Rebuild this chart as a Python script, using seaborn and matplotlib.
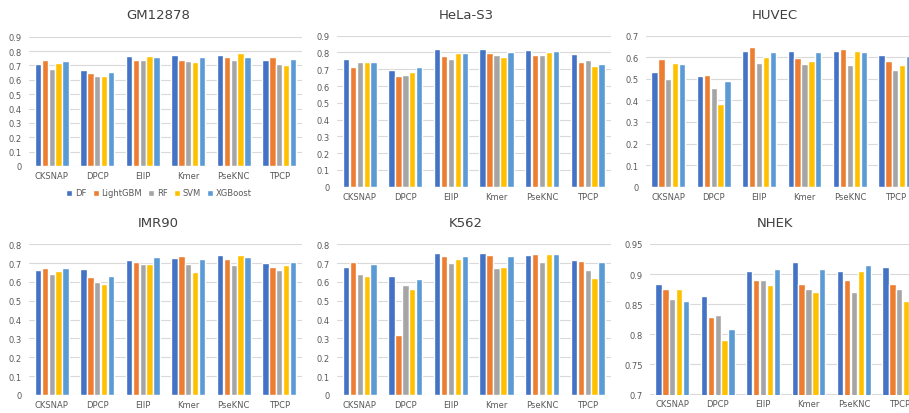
import pandas as pd
import matplotlib
matplotlib.use('Agg')
import matplotlib.pyplot as plt
import seaborn as sns
from matplotlib.ticker import FuncFormatter

features = ['CKSNAP', 'DPCP', 'EIIP', 'Kmer', 'PseKNC', 'TPCP']
models = ['DF', 'LightGBM', 'RF', 'SVM', 'XGBoost']
colors = ['#4472C4', '#ED7D31', '#A5A5A5', '#FFC000', '#5B9BD5']

# values per feature, in model order DF, LightGBM, RF, SVM, XGBoost
gm12878 = [[0.708, 0.735, 0.675, 0.716, 0.731],
           [0.668, 0.645, 0.625, 0.627, 0.652],
           [0.766, 0.740, 0.740, 0.765, 0.761],
           [0.770, 0.740, 0.732, 0.727, 0.761],
           [0.770, 0.757, 0.740, 0.787, 0.757],
           [0.740, 0.761, 0.713, 0.703, 0.743]]
hela_s3 = [[0.762, 0.711, 0.741, 0.745, 0.741],
           [0.696, 0.662, 0.664, 0.682, 0.711],
           [0.819, 0.780, 0.761, 0.799, 0.799],
           [0.819, 0.795, 0.786, 0.773, 0.801],
           [0.815, 0.784, 0.785, 0.803, 0.809],
           [0.789, 0.745, 0.757, 0.717, 0.731]]
huvec = [[0.532, 0.593, 0.498, 0.575, 0.567],
         [0.515, 0.516, 0.456, 0.383, 0.490],
         [0.628, 0.649, 0.572, 0.600, 0.626],
         [0.628, 0.596, 0.569, 0.583, 0.626],
         [0.631, 0.637, 0.566, 0.631, 0.624],
         [0.612, 0.581, 0.542, 0.566, 0.606]]
imr90 = [[0.662, 0.674, 0.644, 0.657, 0.672],
         [0.668, 0.625, 0.600, 0.591, 0.630],
         [0.719, 0.708, 0.697, 0.696, 0.735],
         [0.729, 0.736, 0.694, 0.651, 0.722],
         [0.742, 0.722, 0.688, 0.745, 0.735],
         [0.701, 0.681, 0.664, 0.690, 0.706]]
k562 = [[0.681, 0.704, 0.642, 0.634, 0.694],
        [0.634, 0.320, 0.582, 0.561, 0.614],
        [0.756, 0.736, 0.703, 0.722, 0.736],
        [0.756, 0.745, 0.674, 0.678, 0.736],
        [0.745, 0.750, 0.704, 0.747, 0.747],
        [0.717, 0.713, 0.662, 0.623, 0.708]]
nhek = [[0.884, 0.875, 0.859, 0.875, 0.856],
        [0.863, 0.829, 0.832, 0.790, 0.808],
        [0.905, 0.891, 0.891, 0.882, 0.909],
        [0.920, 0.883, 0.876, 0.871, 0.909],
        [0.905, 0.891, 0.871, 0.905, 0.915],
        [0.911, 0.884, 0.876, 0.855, 0.875]]

W, H = 909, 414
# name, values, y limits, y ticks, plot box in pixels (left, right, y of bottom, y of top), title centre
panels = [
    ('GM12878', gm12878, (0, 0.9), [i / 10 for i in range(10)], (29, 302, 167, 37.7), (158, 15.5)),
    ('HeLa-S3', hela_s3, (0, 0.9), [i / 10 for i in range(10)], (337, 610.5, 187.7, 36.7), (466, 15.5)),
    ('HUVEC', huvec, (0, 0.7), [i / 10 for i in range(8)], (645.6, 918, 187.7, 36.7), (775, 15.5)),
    ('IMR90', imr90, (0, 0.8), [i / 10 for i in range(9)], (29, 302, 396, 245.3), (158, 223.5)),
    ('K562', k562, (0, 0.8), [i / 10 for i in range(9)], (337, 610.5, 396, 245.3), (466, 223.5)),
    ('NHEK', nhek, (0.7, 0.95), [0.7, 0.75, 0.8, 0.85, 0.9, 0.95], (649.6, 922, 395.5, 245), (775, 223.5)),
]

sns.set_style('white')
plt.rcParams['font.family'] = ['DejaVu Sans']

fig = plt.figure(figsize=(W / 100, H / 100), dpi=100)
fmt = FuncFormatter(lambda v, p: '{:g}'.format(round(v, 3)))

first_ax = None
for name, vals, ylim, yticks, (l, r, b, t), (tx, ty) in panels:
    rows = []
    for f, row in zip(features, vals):
        for m, v in zip(models, row):
            rows.append({'feature': f, 'model': m, 'value': v})
    df = pd.DataFrame(rows)

    ax = fig.add_axes([l / W, 1 - b / H, (r - l) / W, (b - t) / H])
    ax.set_facecolor('none')
    sns.barplot(data=df, x='feature', y='value', hue='model', order=features,
                hue_order=models, palette=colors, width=0.76, gap=0.08,
                saturation=1, ax=ax, zorder=3)
    ax.set_ylim(*ylim)
    ax.set_yticks(yticks)
    ax.yaxis.set_major_formatter(fmt)
    ax.set_xlim(-0.5, len(features) - 0.5)
    ax.grid(axis='y', color='#D9D9D9', linewidth=0.8, zorder=0)
    ax.set_axisbelow(True)
    for s in ax.spines.values():
        s.set_visible(False)
    ax.tick_params(axis='both', length=0, labelsize=6, labelcolor='#595959')
    ax.tick_params(axis='y', pad=5)
    ax.tick_params(axis='x', pad=3.5)
    ax.set_xlabel('')
    ax.set_ylabel('')
    if ax.get_legend() is not None:
        ax.get_legend().remove()
    fig.text(tx / W, 1 - ty / H, name, ha='center', va='center',
             fontsize=9.5, color='#404040')
    if first_ax is None:
        first_ax = ax

handles, labels = first_ax.get_legend_handles_labels()
fig.legend(handles, labels, loc='center', bbox_to_anchor=(159 / W, 1 - 194 / H),
           ncol=5, frameon=False, fontsize=6, handlelength=0.7, handleheight=0.7,
           handletextpad=0.3, columnspacing=0.8, labelcolor='#595959')

fig.savefig('out.png', dpi=100)
